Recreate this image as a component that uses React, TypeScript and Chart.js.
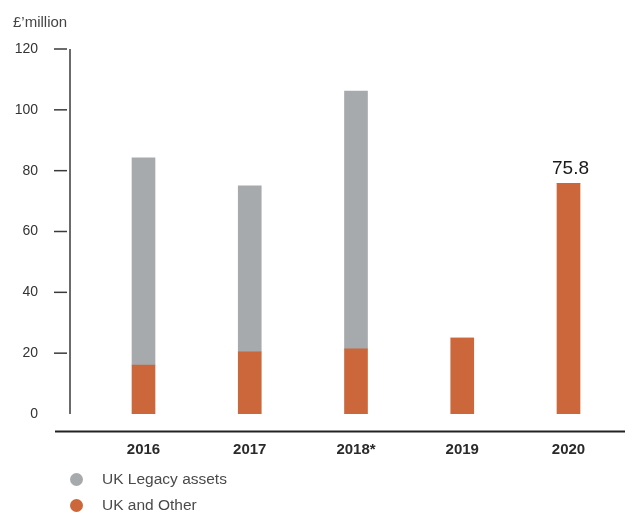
import React, { useEffect, useRef } from "react";
import { Chart, registerables } from "chart.js";

Chart.register(...registerables);

const categories = ["2016", "2017", "2018*", "2019", "2020"];
const ukAndOther = [16.1, 20.4, 21.4, 25.0, 75.8];
const ukLegacy = [68.1, 54.6, 84.8, 0, 0];
const yTicks = [0, 20, 40, 60, 80, 100, 120];
const annotationIndex = 4;
const annotationText = "75.8";

const GREY = "#a7aaad";
const ORANGE = "#cb673a";
const FONT = "'Liberation Sans', Arial, Helvetica, sans-serif";

const axisPlugin = {
  id: "customAxes",
  afterDraw(chart: any) {
    const ctx = chart.ctx;
    const y = chart.scales.y;
    const area = chart.chartArea;
    ctx.save();
    ctx.strokeStyle = "#3a3a3a";
    ctx.lineWidth = 1.5;
    const top = y.getPixelForValue(yTicks[yTicks.length - 1]);
    const bottom = y.getPixelForValue(0);
    ctx.beginPath();
    ctx.moveTo(area.left, top);
    ctx.lineTo(area.left, bottom);
    ctx.stroke();
    yTicks.forEach((t) => {
      if (t === 0) return;
      const py = y.getPixelForValue(t);
      ctx.beginPath();
      ctx.moveTo(area.left - 16, py);
      ctx.lineTo(area.left - 3, py);
      ctx.stroke();
    });
    ctx.lineWidth = 2;
    ctx.strokeStyle = "#222";
    ctx.beginPath();
    ctx.moveTo(55, bottom + 17.5);
    ctx.lineTo(chart.width, bottom + 17.5);
    ctx.stroke();
    const meta = chart.getDatasetMeta(0);
    const el = meta.data[annotationIndex];
    if (el) {
      ctx.fillStyle = "#1a1a1a";
      ctx.font = `19px ${FONT}`;
      ctx.textAlign = "center";
      ctx.textBaseline = "alphabetic";
      ctx.fillText(annotationText, el.x + 2, el.y - 9);
    }
    ctx.restore();
  },
};

export default function App() {
  const ref = useRef<HTMLCanvasElement | null>(null);

  useEffect(() => {
    document.body.style.margin = "0";
    const canvas = ref.current;
    if (!canvas) return;
    const chart = new Chart(canvas, {
      type: "bar",
      data: {
        datasets: [
          {
            label: "UK and Other",
            data: ukAndOther.map((v, i) => ({ x: i, y: v })),
            backgroundColor: ORANGE,
            barThickness: 23,
          },
          {
            label: "UK Legacy assets",
            data: ukLegacy.map((v, i) => ({ x: i, y: v })),
            backgroundColor: GREY,
            barThickness: 23,
          },
        ],
      },
      options: {
        responsive: false,
        animation: false,
        layout: { padding: { top: 49, left: 0, right: 0, bottom: 0 } },
        plugins: {
          legend: { display: false },
          tooltip: { enabled: false },
        },
        scales: {
          x: {
            type: "linear",
            stacked: true,
            offset: false,
            min: -0.6918,
            max: 4.5318,
            grid: { display: false, drawTicks: false, offset: false },
            border: { display: false },
            afterBuildTicks: (s: any) => {
              s.ticks = categories.map((_, i) => ({ value: i }));
            },
            afterFit: (s: any) => {
              s.height = 98;
            },
            ticks: {
              padding: 27,
              color: "#2a2a2a",
              font: { family: FONT, size: 15, weight: "bold" },
              callback: (v: any) => categories[Math.round(Number(v))] ?? "",
              maxRotation: 0,
              autoSkip: false,
            },
          },
          y: {
            stacked: true,
            min: 0,
            max: 120,
            grid: { display: false, drawTicks: false },
            border: { display: false },
            afterFit: (s: any) => {
              s.width = 70;
            },
            afterBuildTicks: (s: any) => {
              s.ticks = yTicks.map((v) => ({ value: v }));
            },
            ticks: {
              padding: 32,
              color: "#333",
              font: { family: FONT, size: 14 },
            },
          },
        },
      },
      plugins: [axisPlugin],
    });
    return () => chart.destroy();
  }, []);

  const legendItems = [
    { label: "UK Legacy assets", color: GREY, top: 479 },
    { label: "UK and Other", color: ORANGE, top: 505 },
  ];

  return (
    <div style={{ position: "relative", width: 625, height: 512, fontFamily: FONT }}>
      <canvas ref={ref} width={625} height={512} style={{ display: "block" }} />
      <div
        style={{
          position: "absolute",
          left: 13,
          top: 12,
          fontSize: 15,
          color: "#444",
          lineHeight: "20px",
        }}
      >
        £’million
      </div>
      {legendItems.map((it) => (
        <div
          key={it.label}
          style={{
            position: "absolute",
            left: 70,
            top: it.top - 10,
            height: 20,
            display: "flex",
            alignItems: "center",
            fontSize: 15.5,
            color: "#4a4a4a",
            whiteSpace: "nowrap",
          }}
        >
          <span
            style={{
              display: "inline-block",
              width: 13,
              height: 13,
              borderRadius: "50%",
              background: it.color,
              marginRight: 19,
            }}
          />
          {it.label}
        </div>
      ))}
    </div>
  );
}
